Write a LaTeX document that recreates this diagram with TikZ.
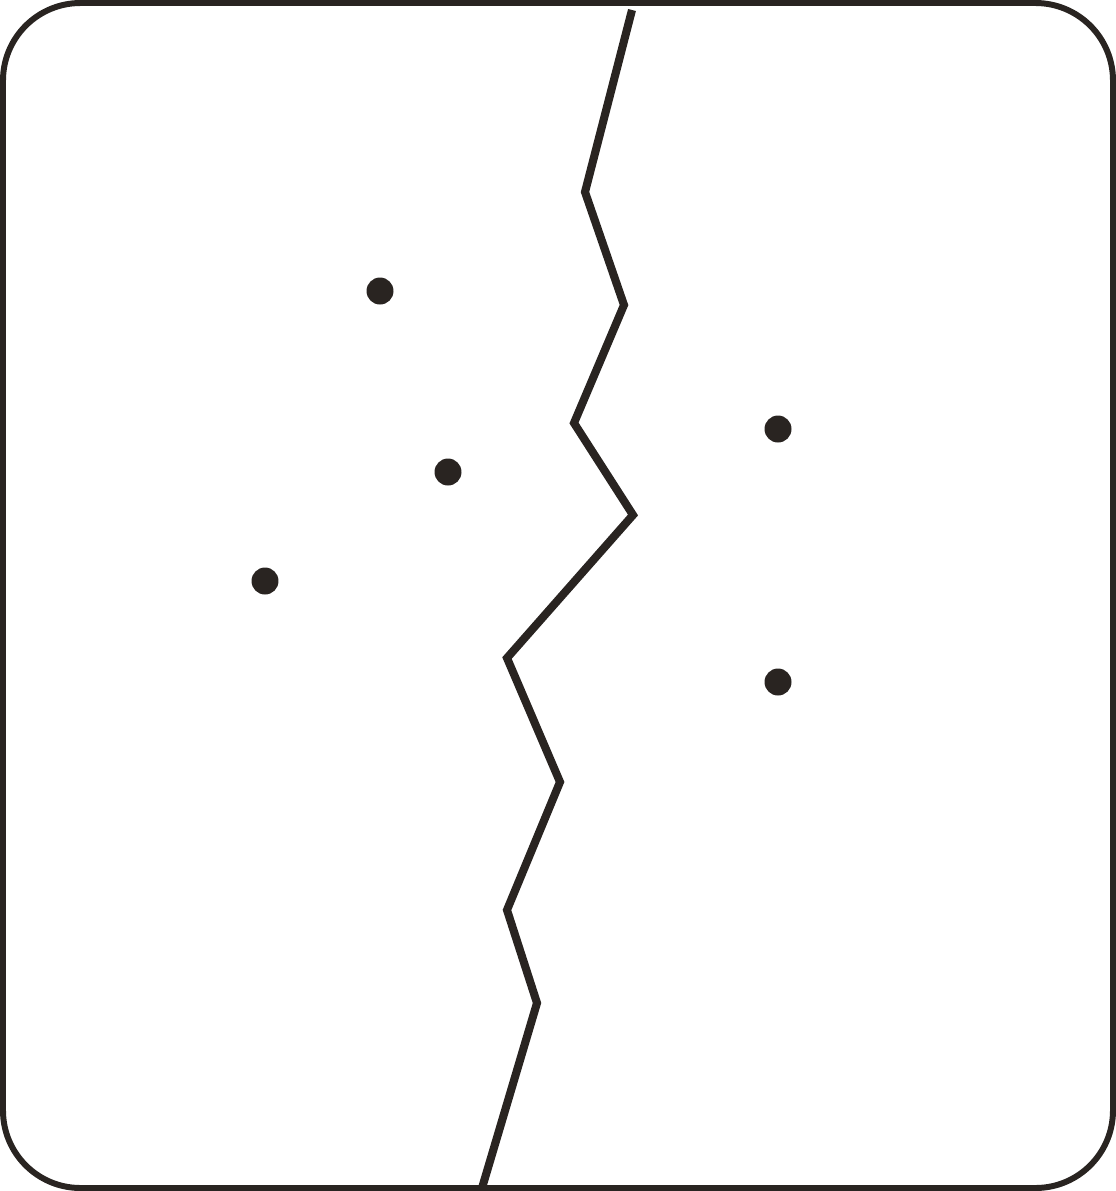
\documentclass[tikz,border=0pt]{standalone}
\definecolor{mydark}{RGB}{41,36,33}

\begin{document}
\begin{tikzpicture}[x=0.02cm, y=-0.02cm,
        dot/.style={circle, fill=mydark, inner sep=0pt, minimum size=0.54cm}]
    \useasboundingbox (0, 0) rectangle (1116, 1191);

    % Outer frame with rounded corners.
    \draw[draw=mydark, line width=3.4pt, rounded corners=1.55cm] (3, 3) rectangle (1113, 1188);

    % Crack line from top to bottom.
    \draw[draw=mydark, line width=4.6pt, line join=miter]
        (632, 10) -- (585, 192) -- (624, 305) -- (574, 423) -- (633, 515)
        -- (507, 658) -- (560, 782) -- (507, 910) -- (537, 1003) -- (482, 1188);

    % Points on the left side.
    \node[dot] (L1) at (380, 291) {};
    \node[dot] (L2) at (448, 472) {};
    \node[dot] (L3) at (265, 581) {};

    % Points on the right side.
    \node[dot] (R1) at (778, 429) {};
    \node[dot] (R2) at (778, 682) {};
\end{tikzpicture}
\end{document}
